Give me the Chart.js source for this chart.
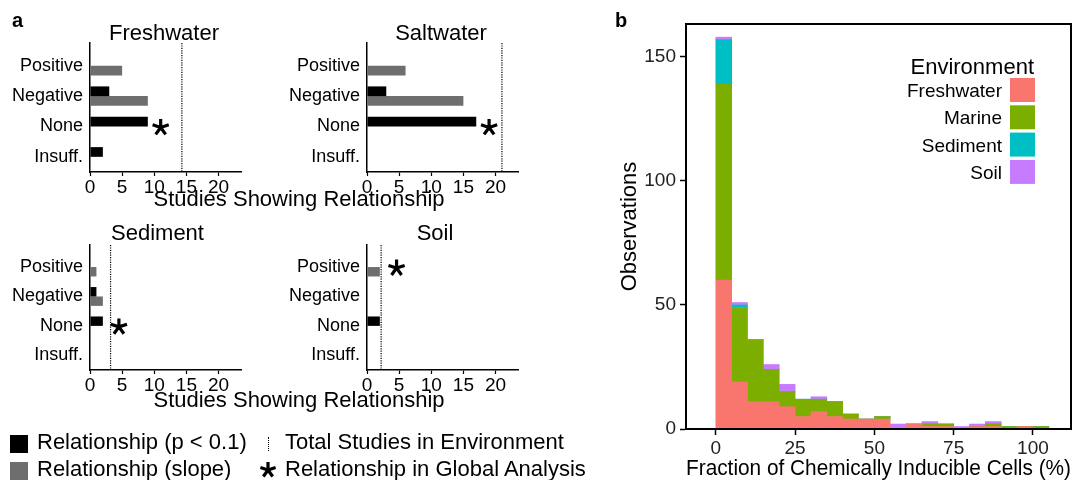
<!DOCTYPE html>
<html>
<head>
<meta charset="utf-8">
<script src="https://cdn.jsdelivr.net/npm/chart.js@4.4.1/dist/chart.umd.min.js"></script>
<style>
  body { margin: 0; background: #fff; font-family: "Liberation Sans", Arial, sans-serif; }
  #wrap { position: relative; width: 1083px; height: 480px; overflow: hidden; }
  canvas { position: absolute; }
  .t { position: absolute; white-space: nowrap; line-height: 1; color: #000; font-size: 22px; }
  .sq { position: absolute; width: 18px; height: 18px; }
</style>
</head>
<body>
<div id="wrap">
  <canvas id="cFresh" width="270" height="205" style="left:0;top:0"></canvas>
  <canvas id="cSalt" width="270" height="205" style="left:277px;top:0"></canvas>
  <canvas id="cSed" width="270" height="205" style="left:0;top:202px"></canvas>
  <canvas id="cSoil" width="270" height="205" style="left:277px;top:202px"></canvas>
  <canvas id="cHist" width="483" height="480" style="left:600px;top:0"></canvas>

  <div class="t" style="left:12px;top:10px;font-size:20px;font-weight:bold">a</div>
  <div class="t" style="left:615px;top:10px;font-size:20px;font-weight:bold">b</div>
  <div class="t" style="left:299px;top:188px;transform:translateX(-50%)">Studies Showing Relationship</div>
  <div class="t" style="left:299px;top:389px;transform:translateX(-50%)">Studies Showing Relationship</div>

  <!-- legend for panel a -->
  <div class="sq" style="left:10px;top:435px;background:#000"></div>
  <div class="t" style="left:37px;top:431px">Relationship (p &lt; 0.1)</div>
  <div class="sq" style="left:10px;top:462px;background:#6e6e6e"></div>
  <div class="t" style="left:37px;top:458px">Relationship (slope)</div>
  <div style="position:absolute;left:268px;top:437px;height:14px;border-left:1px dotted #000"></div>
  <div class="t" style="left:285px;top:431px">Total Studies in Environment</div>
  <svg style="position:absolute;left:259px;top:461px" width="18" height="18" viewBox="-9 -9 18 18">
    <g stroke="#000" stroke-width="3.2">
      <line x1="0" y1="0" x2="0" y2="-8"/>
      <line x1="0" y1="0" x2="7.6" y2="-2.5"/>
      <line x1="0" y1="0" x2="-7.6" y2="-2.5"/>
      <line x1="0" y1="0" x2="4.7" y2="6.5"/>
      <line x1="0" y1="0" x2="-4.7" y2="6.5"/>
    </g>
  </svg>
  <div class="t" style="left:285px;top:458px">Relationship in Global Analysis</div>
</div>

<script>
// ---- panel a data ----
var categories = ['Positive', 'Negative', 'None', 'Insuff.'];
var studyTicks = [0, 5, 10, 15, 20];

var freshP = [0, 3, 9, 2];
var freshSlope = [5, 9, 0, 0];
var saltP = [0, 3, 17, 0];
var saltSlope = [6, 15, 0, 0];
var sedP = [0, 1, 2, 0];
var sedSlope = [1, 2, 0, 0];
var soilP = [0, 0, 2, 0];
var soilSlope = [2, 0, 0, 0];

var totalStudies = [14.3, 21, 3.2, 2.2];
// star: [x value, category row]
var starFresh = [11, 2];
var starSalt = [19, 2];
var starSed = [4.5, 2];
var starSoil = [4.6, 0];

// ---- panel b data ----
var envNames = ['Freshwater', 'Marine', 'Sediment', 'Soil'];
var envColors = ['#F8766D', '#7CAE00', '#00BFC4', '#C77CFF'];
var binCenters = [2.5, 7.5, 12.5, 17.5, 22.5, 27.5, 32.5, 37.5, 42.5, 47.5, 52.5,
                  57.5, 62.5, 67.5, 72.5, 77.5, 82.5, 87.5, 92.5, 97.5, 102.5];
var freshwaterCounts = [60, 19, 11, 11, 9, 5, 7, 5, 4, 4, 4, 0, 2, 1, 1, 0, 1, 1, 0, 1, 0];
var marineCounts     = [79, 30, 25, 13, 6, 7, 5, 6, 2, 0, 1, 0, 0, 1, 1, 0, 0, 1, 1, 0, 1];
var sedimentCounts   = [18, 1, 0, 0, 0, 0, 0, 0, 0, 0, 0, 0, 0, 0, 0, 0, 0, 0, 0, 0, 0];
var soilCounts       = [1, 1, 0, 2, 3, 0, 1, 0, 0, 0, 0, 2, 0, 1, 0, 1, 1, 1, 0, 0, 0];
var fracTicks = [0, 25, 50, 75, 100];
var obsTicks = [0, 50, 100, 150];

var FONT = '"Liberation Sans", Arial, sans-serif';
var grayFill = '#6e6e6e';

function drawStar(ctx, cx, cy, r) {
  ctx.save();
  ctx.strokeStyle = '#000';
  ctx.lineWidth = 3.2;
  ctx.beginPath();
  for (var k = 0; k < 5; k++) {
    var ang = -Math.PI / 2 + k * 2 * Math.PI / 5;
    ctx.moveTo(cx, cy);
    ctx.lineTo(cx + r * Math.cos(ang), cy + r * Math.sin(ang));
  }
  ctx.stroke();
  ctx.restore();
}

// dotted total line, star and title for the small panels
var panelDecor = {
  id: 'panelDecor',
  afterDatasetsDraw: function (chart, args, opts) {
    var ctx = chart.ctx, a = chart.chartArea;
    var x = chart.scales.x, y = chart.scales.y;
    ctx.save();
    var tx = x.getPixelForValue(opts.total);
    ctx.setLineDash([1.2, 1.2]);
    ctx.lineWidth = 1.2;
    ctx.strokeStyle = '#000';
    ctx.beginPath();
    ctx.moveTo(tx, a.top);
    ctx.lineTo(tx, a.bottom);
    ctx.stroke();
    ctx.setLineDash([]);
    drawStar(ctx, x.getPixelForValue(opts.star[0]), y.getPixelForValue(opts.star[1]) + 1, 8.5);
    ctx.font = '22px ' + FONT;
    ctx.fillStyle = '#000';
    ctx.textAlign = 'center';
    ctx.fillText(opts.title, (a.left + a.right) / 2 + opts.titleShift, opts.titleBaseline);
    ctx.restore();
  }
};

function smallChart(id, title, pVals, sVals, total, star, plotBottom, titleShift, titleBaseline) {
  return new Chart(document.getElementById(id), {
    type: 'bar',
    data: {
      datasets: [{
        label: 'Relationship (p < 0.1)',
        data: pVals.map(function (v, i) { return { x: v, y: i }; }),
        backgroundColor: '#000'
      }, {
        label: 'Relationship (slope)',
        data: sVals.map(function (v, i) { return { x: v, y: i }; }),
        backgroundColor: grayFill
      }]
    },
    options: {
      indexAxis: 'y',
      responsive: false,
      animation: false,
      categoryPercentage: 0.64,
      barPercentage: 1,
      inflateAmount: 0,
      layout: { padding: { top: 43, right: 29, left: 0, bottom: 0 } },
      plugins: {
        legend: { display: false },
        tooltip: { enabled: false },
        panelDecor: { title: title, total: total, star: star, titleShift: titleShift, titleBaseline: titleBaseline }
      },
      scales: {
        x: {
          type: 'linear',
          min: 0,
          max: 23.5,
          afterBuildTicks: function (s) { s.ticks = studyTicks.map(function (v) { return { value: v }; }); },
          afterFit: function (s) { s.height = 205 - plotBottom; s.paddingLeft = 0; s.paddingRight = 0; },
          ticks: { color: '#000', font: { family: FONT, size: 19 }, padding: 0, maxRotation: 0 },
          grid: { drawOnChartArea: false, tickLength: 4, color: '#000', tickWidth: 1.2 },
          border: { color: '#000', width: 1.5 }
        },
        y: {
          type: 'linear',
          offset: false,
          reverse: true,
          min: -0.75,
          max: 3.5,
          afterDataLimits: function (s) { s.min = -0.75; s.max = 3.5; },
          afterBuildTicks: function (s) { s.ticks = categories.map(function (c, i) { return { value: i }; }); },
          afterFit: function (s) { s.width = 90; s.paddingTop = 0; s.paddingBottom = 0; },
          ticks: {
            color: '#000', font: { family: FONT, size: 18 }, padding: 7, autoSkip: false,
            callback: function (v) { return categories[v]; }
          },
          grid: { display: false, drawTicks: false, offset: false },
          border: { color: '#000', width: 1.5 }
        }
      }
    },
    plugins: [panelDecor]
  });
}

smallChart('cFresh', 'Freshwater', freshP, freshSlope, totalStudies[0], starFresh, 172, -1.5, 39.5);
smallChart('cSalt', 'Saltwater', saltP, saltSlope, totalStudies[1], starSalt, 172, -1.5, 39.5);
smallChart('cSed', 'Sediment', sedP, sedSlope, totalStudies[2], starSed, 168, -8, 38);
smallChart('cSoil', 'Soil', soilP, soilSlope, totalStudies[3], starSoil, 168, -7.5, 38);

// ---- panel b ----
var histDecor = {
  id: 'histDecor',
  afterDraw: function (chart) {
    var ctx = chart.ctx, a = chart.chartArea;
    ctx.save();
    ctx.strokeStyle = '#000';
    ctx.lineWidth = 2;
    ctx.strokeRect(a.left, a.top, a.right - a.left, a.bottom - a.top);
    ctx.fillStyle = '#000';
    ctx.textAlign = 'right';
    ctx.font = '22px ' + FONT;
    ctx.fillText('Environment', 434, 74);
    ctx.font = '19px ' + FONT;
    chart.data.datasets.forEach(function (ds, i) {
      var top = 78 + i * 27.3;
      ctx.fillStyle = ds.backgroundColor;
      ctx.fillRect(410, top, 25, 24);
      ctx.fillStyle = '#000';
      ctx.fillText(ds.label, 402, top + 12 + 7);
    });
    ctx.restore();
  }
};

var countSets = [freshwaterCounts, marineCounts, sedimentCounts, soilCounts];

new Chart(document.getElementById('cHist'), {
  type: 'bar',
  data: {
    datasets: envNames.map(function (name, k) {
      return {
        label: name,
        data: countSets[k].map(function (c, i) { return { x: binCenters[i], y: c }; }),
        backgroundColor: envColors[k],
        borderWidth: 0,
        barPercentage: 1,
        categoryPercentage: 1
      };
    })
  },
  options: {
    responsive: false,
    animation: false,
    layout: { padding: { top: 24, right: 12, left: 0, bottom: 0 } },
    plugins: { legend: { display: false }, tooltip: { enabled: false } },
    scales: {
      x: {
        type: 'linear',
        offset: false,
        stacked: true,
        min: -9.4,
        max: 112,
        afterDataLimits: function (s) { s.min = -9.4; s.max = 112; },
        afterBuildTicks: function (s) { s.ticks = fracTicks.map(function (v) { return { value: v }; }); },
        afterFit: function (s) { s.height = 51; s.paddingLeft = 0; s.paddingRight = 0; },
        ticks: { color: '#222', font: { family: FONT, size: 19 }, padding: 2, maxRotation: 0 },
        grid: { drawOnChartArea: false, tickLength: 6, color: '#000', tickWidth: 1.5, offset: false },
        border: { color: '#000', width: 2 },
        title: {
          display: true, text: 'Fraction of Chemically Inducible Cells (%)', color: '#000',
          font: { family: FONT, size: 22, lineHeight: 1 }, padding: { top: 0, bottom: 0 }
        }
      },
      y: {
        type: 'linear',
        stacked: true,
        min: 0,
        max: 163.3,
        afterBuildTicks: function (s) { s.ticks = obsTicks.map(function (v) { return { value: v }; }); },
        afterFit: function (s) { s.width = 86; s.paddingTop = 0; s.paddingBottom = 0; },
        ticks: { color: '#222', font: { family: FONT, size: 19 }, padding: 4 },
        grid: { drawOnChartArea: false, tickLength: 6, color: '#000', tickWidth: 1.5 },
        border: { color: '#000', width: 2 },
        title: {
          display: true, text: 'Observations', color: '#000',
          font: { family: FONT, size: 22, lineHeight: 1.2 }, padding: { top: 17, bottom: 0 }
        }
      }
    }
  },
  plugins: [histDecor]
});
</script>
</body>
</html>
